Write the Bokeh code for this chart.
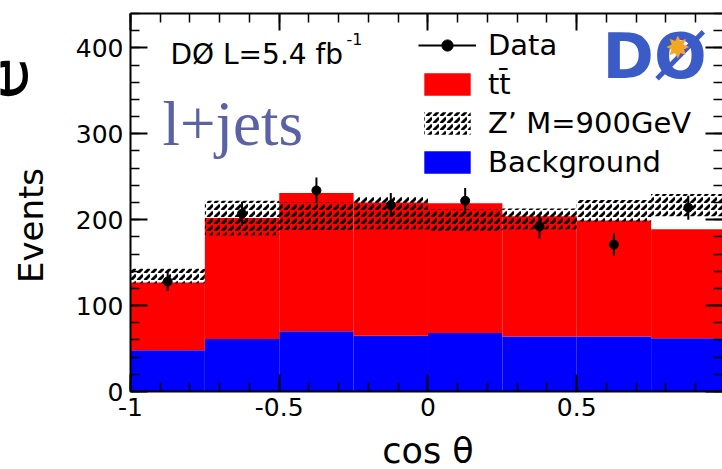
import numpy as np
from bokeh.plotting import figure
from bokeh.layouts import row, column
from bokeh.models import (Range1d, LinearAxis, FixedTicker, CustomJSTickFormatter,
                          Label, Legend, LegendItem)
from bokeh.embed import file_html
from bokeh.resources import INLINE

# ---- data ----
edges = [-1.0, -0.75, -0.5, -0.25, 0.0, 0.25, 0.5, 0.75, 1.0]
background = [48, 61, 70, 65, 68, 64, 64, 62]
ttbar = [79, 141, 161, 155, 151, 140, 135, 127]
zprime_lo = [126, 182, 188, 189, 187, 189, 198, 204]
zprime_hi = [143, 222, 220, 227, 212, 213, 223, 230]
data_y = [128, 207, 234, 217, 222, 192, 171, 214]
data_err = [11, 14, 15, 14, 15, 14, 13, 14]
x_ticks = [-1, -0.5, 0, 0.5, 1]
y_ticks = [0, 100, 200, 300, 400]

left = edges[:-1]
right = edges[1:]
centers = [(a + b) / 2 for a, b in zip(left, right)]
stack_top = [b + t for b, t in zip(background, ttbar)]
err_lo = [y - e for y, e in zip(data_y, data_err)]
err_hi = [y + e for y, e in zip(data_y, data_err)]

FONT = "DejaVu Sans"
W = 722
H = 469
STRIP_W = 52      # left strip (y title)
BOTTOM_H = 35     # bottom strip (x title)
MAIN_W = W - STRIP_W
MAIN_H = H - BOTTOM_H


def bare(fig):
    fig.outline_line_color = None
    fig.grid.visible = False
    fig.background_fill_color = "white"
    fig.border_fill_color = "white"


# left strip: y-axis title and the cropped slide letter
strip = figure(width=STRIP_W, height=H, output_backend="svg", toolbar_location=None,
               x_axis_type=None, y_axis_type=None, min_border=0,
               x_range=Range1d(0, STRIP_W), y_range=Range1d(0, H))
bare(strip)
strip.add_layout(Label(x=1, y=H - 78, text="e",
                       angle=np.pi / 2, text_align="center", text_baseline="alphabetic",
                       text_font=FONT, text_font_size="70px", text_color="black"))
strip.add_layout(Label(x=30, y=H - 225, text="Events",
                       angle=np.pi / 2, text_align="center", text_baseline="alphabetic",
                       text_font=FONT, text_font_size="34px", text_color="black"))

# main plot
p = figure(width=MAIN_W, height=MAIN_H, x_range=Range1d(-1, 0.99), y_range=Range1d(0, 440),
           output_backend="svg", toolbar_location=None,
           min_border_left=130 - STRIP_W, min_border_right=0, min_border_top=13,
           min_border_bottom=MAIN_H - 391)
bare(p)

r_bkg = p.quad(left=left, right=right, bottom=0, top=background,
               fill_color="#0000ff", line_color=None)
r_tt = p.quad(left=left, right=right, bottom=background, top=stack_top,
              fill_color="#ff0000", line_color=None)
r_zp = p.quad(left=left, right=right, bottom=zprime_lo, top=zprime_hi,
              fill_alpha=0, line_color=None, hatch_pattern=",",
              hatch_color="black", hatch_scale=7, hatch_weight=3)
r_err = p.segment(x0=centers, y0=err_lo, x1=centers, y1=err_hi,
                  line_color="black", line_width=2)
r_pts = p.scatter(centers, data_y, size=9, color="black")

x_minor = [round(v, 2) for v in np.arange(-1.0, 1.0001, 0.1)]
y_minor = list(range(0, 441, 20))
xt = FixedTicker(ticks=x_ticks, minor_ticks=x_minor)
yt = FixedTicker(ticks=y_ticks, minor_ticks=y_minor)
fmt = CustomJSTickFormatter(code="return tick.toString();")


def style(ax, labels=True):
    ax.axis_line_width = 2
    ax.axis_line_color = "black"
    ax.major_tick_line_width = 2
    ax.minor_tick_line_width = 1.5
    ax.major_tick_line_color = "black"
    ax.minor_tick_line_color = "black"
    ax.major_tick_in = 17
    ax.major_tick_out = 0
    ax.minor_tick_in = 9
    ax.minor_tick_out = 0
    ax.major_label_text_font = FONT
    ax.major_label_text_color = "black"
    if labels:
        ax.major_label_text_font_size = "25px"
    else:
        ax.major_label_text_font_size = "0px"
        ax.major_label_standoff = 0


xa = p.xaxis[0]
ya = p.yaxis[0]
xa.ticker = xt
ya.ticker = yt
xa.formatter = fmt
ya.formatter = fmt
style(xa)
style(ya)
xa.major_label_standoff = 6
ya.major_label_standoff = 7

top_ax = LinearAxis(ticker=xt, formatter=fmt)
style(top_ax, labels=False)
p.add_layout(top_ax, "above")
right_ax = LinearAxis(ticker=yt, formatter=fmt)
style(right_ax, labels=False)
right_ax.axis_line_color = None
p.add_layout(right_ax, "right")

# annotations (screen units, relative to the plot frame)
p.add_layout(Label(x=40, y=337, x_units="screen", y_units="screen", text="DØ L=5.4 fb",
                   text_baseline="alphabetic", text_font=FONT, text_font_size="28px",
                   text_color="black"))
p.add_layout(Label(x=216, y=353, x_units="screen", y_units="screen", text="-1",
                   text_baseline="alphabetic", text_font=FONT, text_font_size="16px",
                   text_color="black"))
p.add_layout(Label(x=32, y=268, x_units="screen", y_units="screen", text="l+jets",
                   text_baseline="alphabetic", text_font="Liberation Serif",
                   text_font_size="63px", text_color="#5a62a4"))
# logo approximation
p.add_layout(Label(x=472, y=335, x_units="screen", y_units="screen", text="DØ",
                   text_baseline="alphabetic", text_font=FONT, text_font_style="bold",
                   text_font_size="62px", text_color="#3b5cc6"))
p.add_layout(Label(x=547, y=344, x_units="screen", y_units="screen", text="✸",
                   text_align="center", text_baseline="middle", text_font=FONT,
                   text_font_size="30px", text_color="#f5a623"))

legend = Legend(items=[
    LegendItem(label="Data", renderers=[r_err, r_pts]),
    LegendItem(label="tt̄", renderers=[r_tt]),
    LegendItem(label="Z’ M=900GeV", renderers=[r_zp]),
    LegendItem(label="Background", renderers=[r_bkg]),
], location=(288, 212), border_line_color=None, background_fill_alpha=0,
    padding=0, margin=0, spacing=5, glyph_width=58, glyph_height=28,
    label_height=28, label_standoff=12, label_text_font=FONT,
    label_text_font_size="29px", label_text_color="black")
p.add_layout(legend)

# bottom strip: x-axis title, sharing the main x range
bottom = figure(width=MAIN_W, height=BOTTOM_H, output_backend="svg", toolbar_location=None,
                x_axis_type=None, y_axis_type=None, x_range=p.x_range,
                y_range=Range1d(0, BOTTOM_H), min_border_left=130 - STRIP_W,
                min_border_right=0, min_border_top=0, min_border_bottom=0)
bare(bottom)
bottom.add_layout(Label(x=0, y=19, y_units="screen", text="cos θ",
                        text_align="center", text_baseline="alphabetic",
                        text_font=FONT, text_font_size="35px", text_color="black"))

layout = row(strip, column(p, bottom, spacing=0), spacing=0)
open("out.html", "w").write(file_html(layout, INLINE))
